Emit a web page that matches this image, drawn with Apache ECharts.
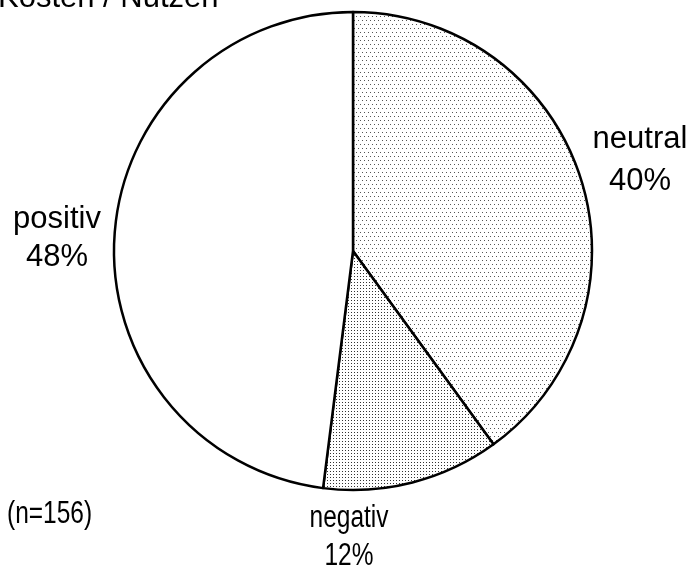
<!DOCTYPE html>
<html>
<head>
<meta charset="utf-8">
<script src="https://cdn.jsdelivr.net/npm/echarts@6/dist/echarts.min.js"></script>
<style>
html,body{margin:0;padding:0;background:#fff;}
#c{width:691px;height:567px;}
</style>
</head>
<body>
<div id="c"></div>
<script>
var titleText = 'Kosten / Nutzen';
var categories = ['neutral', 'negativ', 'positiv'];
var values = [40, 12, 48];
var sampleNote = '(n=156)';

function makeTile(w, h, dots, color) {
  var cv = document.createElement('canvas');
  cv.width = w; cv.height = h;
  var ctx = cv.getContext('2d');
  ctx.fillStyle = '#ffffff';
  ctx.fillRect(0, 0, w, h);
  ctx.fillStyle = color;
  dots.forEach(function (d) { ctx.fillRect(d[0], d[1], 1, 1); });
  return cv;
}
var neutralTile = makeTile(4, 8, [[0, 0], [2, 4]], '#555555');
var negativTile = makeTile(3, 3, [[0, 0]], '#333333');
var fills = [
  { image: neutralTile, repeat: 'repeat' },
  { image: negativTile, repeat: 'repeat' },
  '#ffffff'
];

var chart = echarts.init(document.getElementById('c'), null, { renderer: 'canvas' });

var FONT = '31px "Liberation Sans", Arial, sans-serif';
var labelPos = [
  { x: 640, y: 155, narrow: false },
  { x: 349, y: 534, narrow: true },
  { x: 57, y: 235, narrow: false }
];
var lineGaps = [42, 38, 38];

var graphics = [{
  type: 'text', left: -2, top: -17,
  style: { text: titleText, font: FONT, fill: '#000' }
}, {
  type: 'text', x: 7, y: 514, scaleX: 0.79, scaleY: 1,
  style: { text: sampleNote, font: FONT, fill: '#000',
           textVerticalAlign: 'middle', textAlign: 'left' }
}];
categories.forEach(function (c, i) {
  var p = labelPos[i];
  [c, values[i] + '%'].forEach(function (t, k) {
    graphics.push({
      type: 'text', x: p.x, y: p.y + k * lineGaps[i],
      scaleX: p.narrow ? 0.79 : 1, scaleY: 1,
      style: { text: t, font: FONT, fill: '#000',
               textAlign: 'center', textVerticalAlign: 'bottom' }
    });
  });
});

chart.setOption({
  animation: false,
  backgroundColor: '#ffffff',
  graphic: graphics,
  series: [{
    type: 'pie',
    center: [353, 251],
    radius: [0, 239],
    startAngle: 90,
    clockwise: true,
    avoidLabelOverlap: false,
    label: { show: false },
    labelLine: { show: false },
    emphasis: { disabled: true },
    itemStyle: { borderColor: '#000', borderWidth: 2.5 },
    data: categories.map(function (c, i) {
      return { name: c, value: values[i], itemStyle: { color: fills[i] } };
    })
  }]
});
</script>
</body>
</html>
